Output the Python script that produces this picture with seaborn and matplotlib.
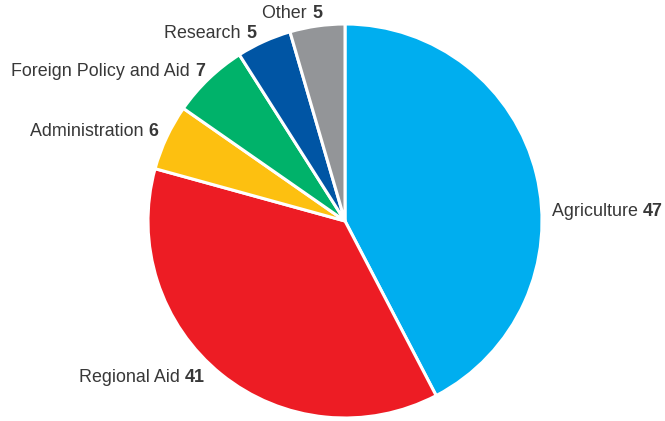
import matplotlib
matplotlib.use("Agg")
import matplotlib.pyplot as plt
import seaborn as sns

categories = ["Agriculture", "Regional Aid", "Administration", "Foreign Policy and Aid", "Research", "Other"]
values = [47, 41, 6, 7, 5, 5]
colors = ["#00AEEF", "#ED1C24", "#FDC010", "#00B26A", "#0055A4", "#939598"]

sns.set_theme(style="white")
plt.rcParams['font.family'] = ['Liberation Sans', 'DejaVu Sans']

W, H = 665, 421
fig = plt.figure(figsize=(W / 100, H / 100), dpi=100)
ax = fig.add_axes([0, 0, 1, 1])
ax.set_xlim(0, W)
ax.set_ylim(0, H)
ax.axis("off")

cx, cy, r = 345, H - 221, 197
palette = sns.color_palette(colors)
ax.pie(values, colors=palette, startangle=90, counterclock=False, center=(cx, cy), radius=r,
       wedgeprops=dict(edgecolor="white", linewidth=2.2), frame=False)
ax.set_xlim(0, W)
ax.set_ylim(0, H)
ax.set_aspect("auto")

# label anchor positions (pixel coords, from top)
label_pos = {
    "Agriculture": (552, 212, "left"),
    "Regional Aid": (205, 378, "right"),
    "Administration": (158, 131, "right"),
    "Foreign Policy and Aid": (205, 71, "right"),
    "Research": (256, 33, "right"),
    "Other": (322, 13, "right"),
}
fs = 12.9
tc = "#383838"
fig.canvas.draw()
renderer = fig.canvas.get_renderer()
for name, val in zip(categories, values):
    x, y, ha = label_pos[name]
    yy = H - y
    if ha == "left":
        t1 = ax.text(x, yy, name + " ", ha="left", va="center", fontsize=fs, color=tc)
        bb = t1.get_window_extent(renderer)
        ax.text(bb.x1, yy, str(val), ha="left", va="center", fontsize=fs, color=tc, fontweight="bold")
    else:
        t2 = ax.text(x, yy, str(val), ha="right", va="center", fontsize=fs, color=tc, fontweight="bold")
        bb = t2.get_window_extent(renderer)
        ax.text(bb.x0, yy, name + " ", ha="right", va="center", fontsize=fs, color=tc)

fig.savefig("out.png", dpi=100)
